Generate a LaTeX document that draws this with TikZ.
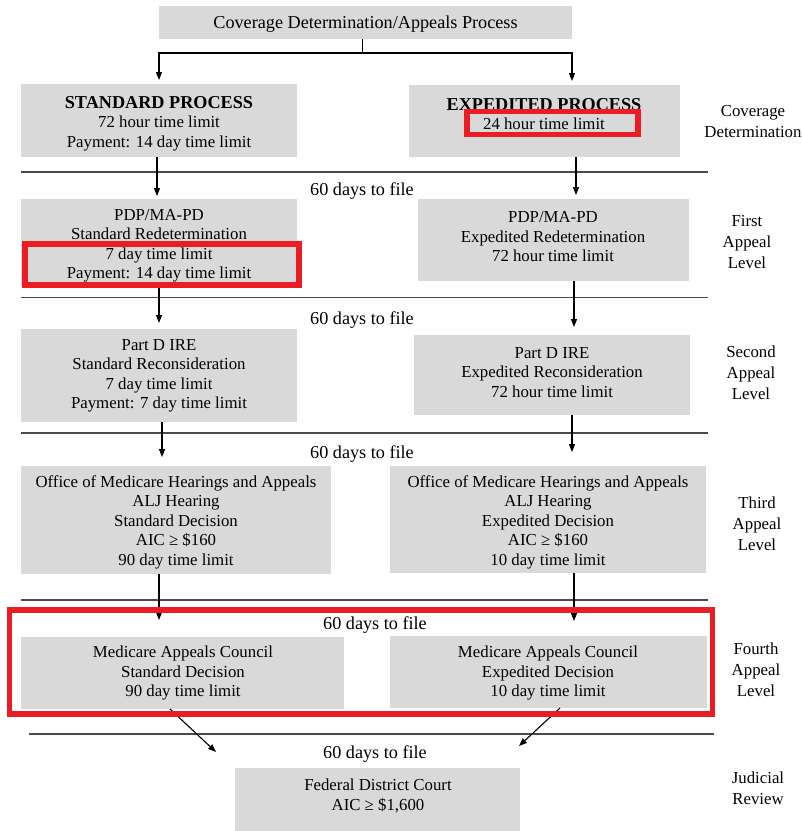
\documentclass[tikz,border=0pt]{standalone}
\usepackage{fontspec}
\setmainfont{Liberation Serif}
\usetikzlibrary{arrows.meta}
\definecolor{boxgray}{HTML}{D9D9D9}
\definecolor{hlred}{HTML}{EC1C24}
\definecolor{rulegray}{HTML}{4A4A4A}
\begin{document}
\begin{tikzpicture}[x=1pt,y=-1pt,
  box/.style={fill=boxgray, draw=none, inner sep=0pt, outer sep=0pt},
  txt/.style={align=center, inner sep=0pt, yshift=-2pt, font=\fontsize{16.8}{19.5}\selectfont},
  big/.style={align=center, inner sep=0pt, yshift=-2pt, font=\fontsize{18.2}{19.5}\selectfont},
  side/.style={align=center, inner sep=0pt, yshift=-1pt, font=\fontsize{16.8}{21}\selectfont},
  arr/.style={draw=black, line width=1.1pt, -{Triangle[length=8pt,width=6pt]}},
  sepline/.style={draw=rulegray, line width=1.6pt},
  hl/.style={draw=hlred, line width=5.5pt, inner sep=0pt, outer sep=0pt, fill=none}]
\useasboundingbox (0,0) rectangle (802,831);

% boxes
\node[box, minimum width=413, minimum height=33] (title) at (365.5,22.5) {};
\node[box, minimum width=276, minimum height=73] (std) at (159,120.5) {};
\node[box, minimum width=271, minimum height=72] (exp) at (544.5,121) {};
\node[box, minimum width=276, minimum height=87] (fs) at (159,242.5) {};
\node[box, minimum width=271, minimum height=82] (fe) at (553.5,240) {};
\node[box, minimum width=276, minimum height=93] (ss) at (159,375.5) {};
\node[box, minimum width=276, minimum height=80] (se) at (552,375) {};
\node[box, minimum width=310, minimum height=108] (ts) at (176,520) {};
\node[box, minimum width=316, minimum height=107] (te) at (548,519.5) {};
\node[box, minimum width=323, minimum height=72] (fos) at (182.5,673) {};
\node[box, minimum width=317, minimum height=72] (foe) at (548.5,672) {};
\node[box, minimum width=285, minimum height=63] (fed) at (377.5,799.5) {};

% box texts
\node[big] (titleT) at (365.5,22.5) {Coverage Determination/Appeals Process};
\node[txt] (stdT) at (159,121.5) {{\fontsize{18.2}{19.5}\selectfont\bfseries STANDARD PROCESS}\\72 hour time limit\\Payment: 14 day time limit};
\node[txt] (expT) at (544,112) {{\fontsize{18.2}{19.5}\selectfont\bfseries EXPEDITED PROCESS}\\24 hour time limit};
\node[txt] (fsT) at (159,244) {PDP/MA-PD\\Standard Redetermination\\7 day time limit\\Payment: 14 day time limit};
\node[txt] (feT) at (553,235) {PDP/MA-PD\\Expedited Redetermination\\72 hour time limit};
\node[txt] (ssT) at (159,374) {Part D IRE\\Standard Reconsideration\\7 day time limit\\Payment: 7 day time limit};
\node[txt] (seT) at (552,370.5) {Part D IRE\\Expedited Reconsideration\\72 hour time limit};
\node[txt] (tsT) at (176,520) {Office of Medicare Hearings and Appeals\\ALJ Hearing\\Standard Decision\\AIC ≥ \$160\\90 day time limit};
\node[txt] (teT) at (548,520) {Office of Medicare Hearings and Appeals\\ALJ Hearing\\Expedited Decision\\AIC ≥ \$160\\10 day time limit};
\node[txt] (fosT) at (183,671) {Medicare Appeals Council\\Standard Decision\\90 day time limit};
\node[txt] (foeT) at (548,671) {Medicare Appeals Council\\Expedited Decision\\10 day time limit};
\node[txt] (fedT) at (378,794) {Federal District Court\\AIC ≥ \$1,600};

% filing labels
\node[big] (d1) at (362,189) {60 days to file};
\node[big] (d2) at (362,318) {60 days to file};
\node[big] (d3) at (362,452) {60 days to file};
\node[big] (d4) at (375,623) {60 days to file};
\node[big] (d5) at (375,752) {60 days to file};

% side labels
\node[side] (l0) at (753,120.5) {Coverage\\Determination};
\node[side] (l1) at (747,241.5) {First\\Appeal\\Level};
\node[side] (l2) at (751,371.5) {Second\\Appeal\\Level};
\node[side] (l3) at (757,522.5) {Third\\Appeal\\Level};
\node[side] (l4) at (756,668.5) {Fourth\\Appeal\\Level};
\node[side] (l5) at (758,787.5) {Judicial\\Review};

% separators
\draw[sepline] (21,172) -- (708,172);
\draw[sepline] (21,297.5) -- (708,297.5);
\draw[sepline] (21,433) -- (708,433);
\draw[sepline] (21,600) -- (708,600);
\draw[sepline] (29,734) -- (714,734);

% connectors
\draw[arr, shorten >=4pt] ([xshift=-3pt]title.south) -- ++(0,14) -| (std.north);
\draw[arr, shorten >=4pt] ([xshift=-3pt]title.south) -- ++(0,14) -| ([xshift=27.5pt]exp.north);
\draw[arr, shorten >=3pt] ([xshift=-2pt]std.south) -- ([xshift=-2pt]fs.north);
\draw[arr, shorten >=4pt] ([xshift=31.5pt]exp.south) -- ([xshift=22.5pt]fe.north);
\draw[arr, shorten >=6pt] (fs.south) -- (ss.north);
\draw[arr, shorten >=8pt] ([xshift=20.5pt]fe.south) -- ([xshift=22pt]se.north);
\draw[arr, shorten >=9pt] ([xshift=3pt]ss.south) -- ([xshift=-14pt]ts.north);
\draw[arr, shorten >=14pt] ([xshift=20pt]se.south) -- ([xshift=24pt]te.north);
\draw[arr, shorten >=17pt] ([xshift=-17pt]ts.south) -- ([xshift=-23.5pt]fos.north);
\draw[arr, shorten >=15pt] ([xshift=26pt]te.south) -- ([xshift=25.5pt]foe.north);
\draw[arr] ([xshift=-12.5pt]fos.south) -- ([xshift=-161.5pt,yshift=16pt]fed.north);
\draw[arr] ([xshift=11.5pt]foe.south) -- ([xshift=141.5pt,yshift=22pt]fed.north);

% highlights
\node[hl, minimum width=171, minimum height=23] (r1) at (552.5,123) {};
\node[hl, minimum width=274, minimum height=41] (r2) at (162,264.5) {};
\node[hl, minimum width=703, minimum height=104] (r3) at (361,662) {};
\end{tikzpicture}
\end{document}
